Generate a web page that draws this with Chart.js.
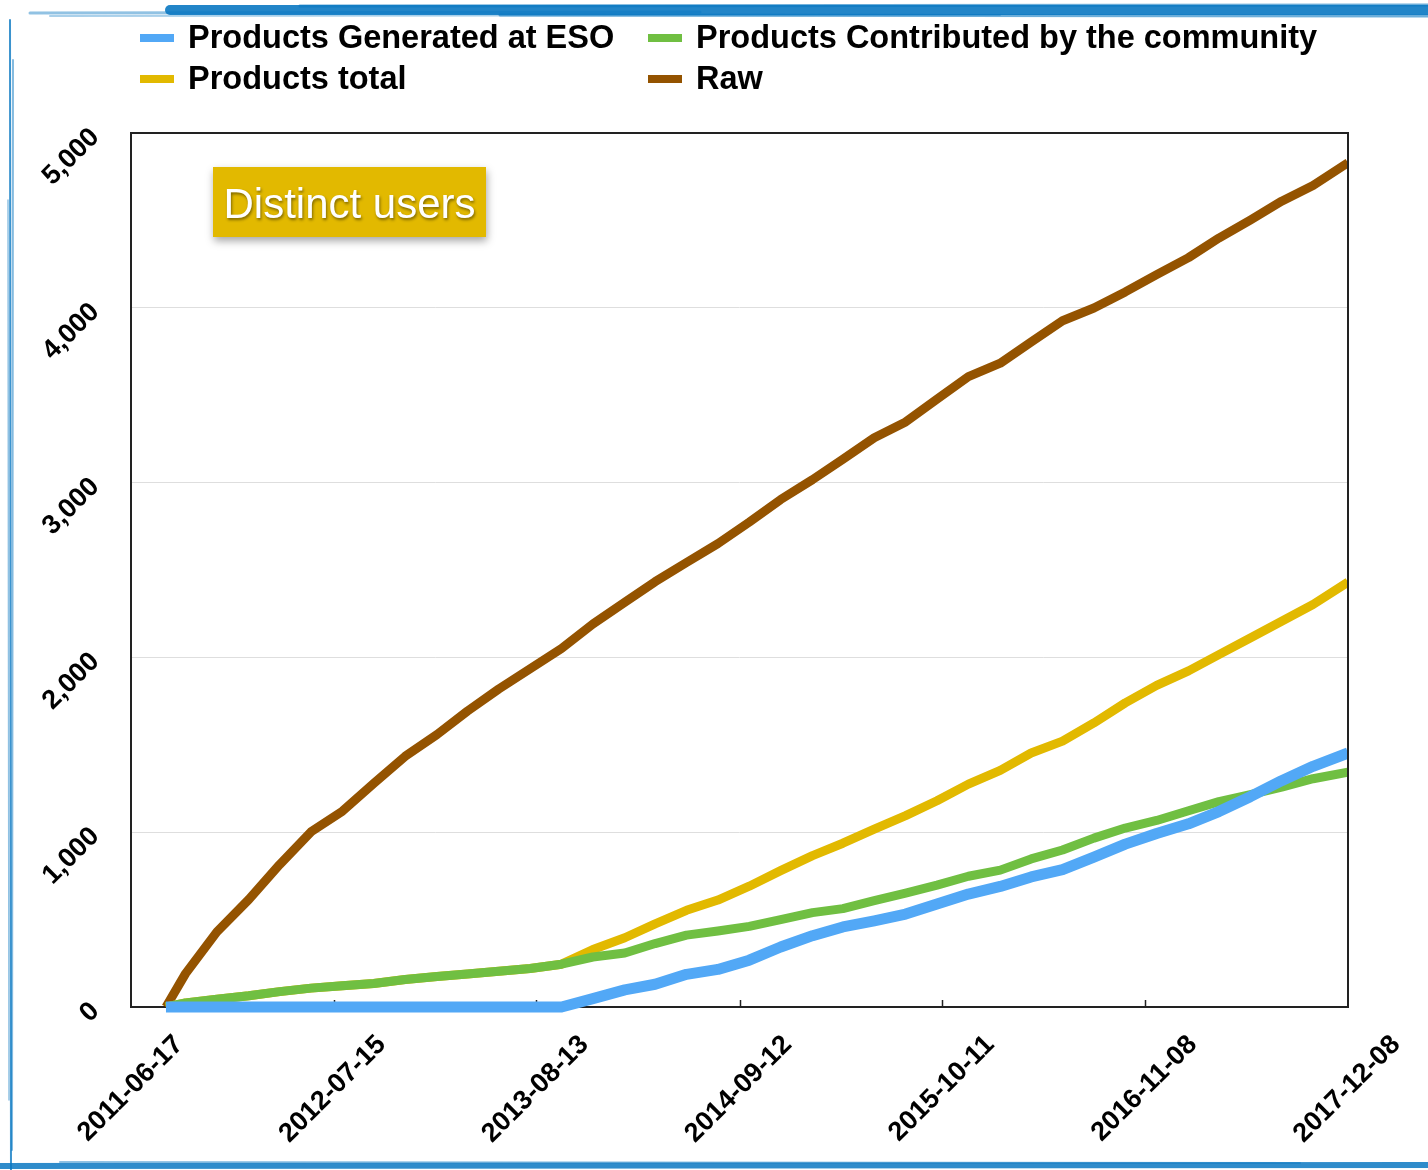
<!DOCTYPE html>
<html lang="en">
<head>
  <meta charset="UTF-8">
  <title>Distinct users</title>
  <script src="https://cdn.jsdelivr.net/npm/chart.js"></script>
  <style>
    html, body { margin: 0; padding: 0; background: #fff; }
    #chart { display: block; }
  </style>
</head>
<body>
  <canvas id="chart" width="1428" height="1170"></canvas>

  <script>
    // tick dates on the time axis (first and last are the axis ends)
    const axisDates = ['2011-06-17', '2012-07-15', '2013-08-13', '2014-09-12', '2015-10-11', '2016-11-08', '2017-12-08'];

    // dates at which the cumulative counts were sampled
    const sampleDates = [
      '2011-08-24', '2011-10-01', '2011-12-01',
      '2012-02-01', '2012-04-01', '2012-06-01', '2012-08-01', '2012-10-01', '2012-12-01',
      '2013-02-01', '2013-04-01', '2013-06-01', '2013-08-01', '2013-10-01', '2013-12-01',
      '2014-02-01', '2014-04-01', '2014-06-01', '2014-08-01', '2014-10-01', '2014-12-01',
      '2015-02-01', '2015-04-01', '2015-06-01', '2015-08-01', '2015-10-01', '2015-12-01',
      '2016-02-01', '2016-04-01', '2016-06-01', '2016-08-01', '2016-10-01', '2016-12-01',
      '2017-02-01', '2017-04-01', '2017-06-01', '2017-08-01', '2017-10-01', '2017-12-08'
    ];

    const esoUsers = [
      0, 0, 0, 0, 0, 0, 0, 0, 0, 0, 0, 0, 0, 0,
      48, 98, 130, 187, 215, 268, 343, 408, 458, 493, 532, 589, 646,
      690, 744, 786, 858, 932, 993, 1048, 1118, 1203, 1295, 1377, 1453
    ];
    const communityUsers = [
      0, 23, 44, 64, 88, 108, 122, 134, 157, 175, 189, 204, 220, 245,
      286, 309, 363, 411, 435, 461, 500, 540, 563, 608, 651, 697, 748,
      783, 847, 898, 966, 1024, 1067, 1123, 1175, 1215, 1258, 1306, 1344
    ];
    const totalUsers = [
      0, 23, 44, 64, 88, 108, 122, 134, 157, 175, 189, 204, 220, 245,
      329, 396, 476, 553, 612, 691, 780, 866, 937, 1018, 1095, 1180, 1275,
      1354, 1453, 1521, 1625, 1740, 1840, 1923, 2016, 2111, 2207, 2303, 2431
    ];
    const rawUsers = [
      0, 191, 430, 615, 815, 1002, 1120, 1279, 1434, 1559, 1693, 1819, 1935, 2051,
      2191, 2315, 2433, 2543, 2651, 2774, 2903, 3017, 3134, 3257, 3347, 3478, 3606,
      3683, 3804, 3926, 3999, 4091, 4190, 4287, 4399, 4502, 4610, 4700, 4830
    ];

    const seriesLabels = ['Products Generated at ESO', 'Products Contributed by the community', 'Products total', 'Raw'];
    const seriesColors = ['#52a8f6', '#70bf42', '#e2b900', '#945300'];
    const tagText = 'Distinct users';

    const FONT = '"Liberation Sans", Arial, Helvetica, sans-serif';
    const dayMs = 86400000;
    const origin = Date.parse(axisDates[0]);
    const dayOffset = d => Math.round((Date.parse(d) - origin) / dayMs);
    const toPoints = values => values.map((v, i) => ({ x: dayOffset(sampleDates[i]), y: v }));
    const axisTicks = axisDates.map(dayOffset);

    // blue brush strokes around the page
    const brushStrokes = [
      // x1, y1, x2, y2, width, alpha
      [30, 13, 700, 12, 3, 0.45],
      [50, 16, 1000, 15, 2, 0.35],
      [170, 10, 1428, 10, 10, 0.9],
      [300, 6, 1428, 5, 3, 0.6],
      [500, 15, 1428, 16, 3, 0.6],
      [10, 20, 11, 1170, 2, 0.8],
      [13, 60, 12, 1150, 2, 0.5],
      [8, 200, 9, 1100, 1.5, 0.45],
      [0, 1166, 1428, 1165, 6, 0.85],
      [60, 1162, 1300, 1163, 2, 0.45]
    ];

    const pagePlugin = {
      id: 'pagePlugin',
      beforeDraw(chart) {
        const ctx = chart.ctx;
        ctx.save();
        ctx.fillStyle = '#fff';
        ctx.fillRect(0, 0, chart.width, chart.height);
        ctx.lineCap = 'round';
        brushStrokes.forEach(([x1, y1, x2, y2, w, a]) => {
          ctx.strokeStyle = `rgba(10, 120, 194, ${a})`;
          ctx.lineWidth = w;
          ctx.beginPath();
          ctx.moveTo(x1, y1);
          ctx.lineTo(x2, y2);
          ctx.stroke();
        });
        ctx.restore();
      },
      beforeDatasetsDraw(chart) {
        const { ctx, chartArea: a, scales } = chart;
        ctx.save();
        ctx.strokeStyle = '#222';
        ctx.lineWidth = 2;
        ctx.strokeRect(a.left, a.top, a.right - a.left, a.bottom - a.top);
        // short inner tick marks on the time axis
        ctx.lineWidth = 1.5;
        axisTicks.slice(1, -1).forEach(t => {
          const x = Math.round(scales.x.getPixelForValue(t)) + 0.5;
          ctx.beginPath();
          ctx.moveTo(x, a.bottom);
          ctx.lineTo(x, a.bottom - 7);
          ctx.stroke();
        });
        ctx.restore();
      },
      afterDatasetsDraw(chart) {
        const { ctx, chartArea: a } = chart;
        ctx.save();
        ctx.strokeStyle = '#222';
        ctx.lineWidth = 2;
        ctx.beginPath();
        ctx.moveTo(a.right, a.top);
        ctx.lineTo(a.right, a.bottom);
        ctx.stroke();
        ctx.restore();
      },
      afterDraw(chart) {
        const ctx = chart.ctx;
        ctx.save();
        // legend, two columns
        const cols = [140, 648];
        const rows = [38, 79];
        ctx.font = 'bold 32.5px ' + FONT;
        ctx.textBaseline = 'middle';
        chart.data.datasets.forEach((ds, i) => {
          const x = cols[i % 2];
          const y = rows[Math.floor(i / 2)];
          ctx.fillStyle = ds.borderColor;
          ctx.fillRect(x, y - 4, 34, 8);
          ctx.fillStyle = '#000';
          ctx.fillText(ds.label, x + 48, y + 1);
        });

        // tag box in the plot
        ctx.shadowColor = 'rgba(0, 0, 0, 0.35)';
        ctx.shadowBlur = 8;
        ctx.shadowOffsetX = 1;
        ctx.shadowOffsetY = 4;
        ctx.fillStyle = '#e2b900';
        ctx.fillRect(213, 167, 273, 70);
        ctx.shadowColor = 'rgba(0, 0, 0, 0.45)';
        ctx.shadowBlur = 3;
        ctx.shadowOffsetX = 1;
        ctx.shadowOffsetY = 2;
        ctx.fillStyle = '#fff';
        ctx.font = '42px ' + FONT;
        ctx.textAlign = 'center';
        ctx.textBaseline = 'alphabetic';
        ctx.fillText(tagText, 349.5, 218);
        ctx.restore();
      }
    };

    const datasets = [esoUsers, communityUsers, totalUsers, rawUsers].map((values, i) => ({
      label: seriesLabels[i],
      data: toPoints(values),
      borderColor: seriesColors[i],
      backgroundColor: seriesColors[i],
      borderWidth: i === 0 ? 11 : 9,
      pointRadius: 0,
      tension: 0,
      fill: false,
      borderJoinStyle: 'round',
      borderCapStyle: 'butt',
      clip: { left: 10, top: 10, right: 0, bottom: 10 }
    }));

    new Chart(document.getElementById('chart'), {
      type: 'line',
      data: { datasets: datasets },
      plugins: [pagePlugin],
      options: {
        responsive: false,
        animation: false,
        devicePixelRatio: 1,
        layout: { padding: { top: 133, right: 80, bottom: 0, left: 0 } },
        plugins: {
          legend: { display: false },
          tooltip: { enabled: false }
        },
        scales: {
          x: {
            type: 'linear',
            min: axisTicks[0],
            max: axisTicks[axisTicks.length - 1],
            afterBuildTicks: scale => {
              scale.ticks = axisTicks.map(v => ({ value: v }));
            },
            afterFit: scale => { scale.height = 163; },
            grid: { display: false, drawTicks: false },
            border: { display: false },
            ticks: {
              autoSkip: false,
              minRotation: 45,
              maxRotation: 45,
              padding: 22,
              labelOffset: 48,
              color: '#000',
              font: { family: FONT, size: 27, weight: 'bold' },
              callback: value => axisDates[axisTicks.indexOf(value)]
            }
          },
          y: {
            min: 0,
            max: 5000,
            afterFit: scale => { scale.width = 131; },
            grid: { color: '#dedede', lineWidth: 1, drawTicks: false },
            border: { display: false },
            ticks: {
              stepSize: 1000,
              minRotation: 45,
              maxRotation: 45,
              padding: 36,
              color: '#000',
              font: { family: FONT, size: 27, weight: 'bold' },
              callback: value => value.toLocaleString('en-US')
            }
          }
        }
      }
    });
  </script>
</body>
</html>
